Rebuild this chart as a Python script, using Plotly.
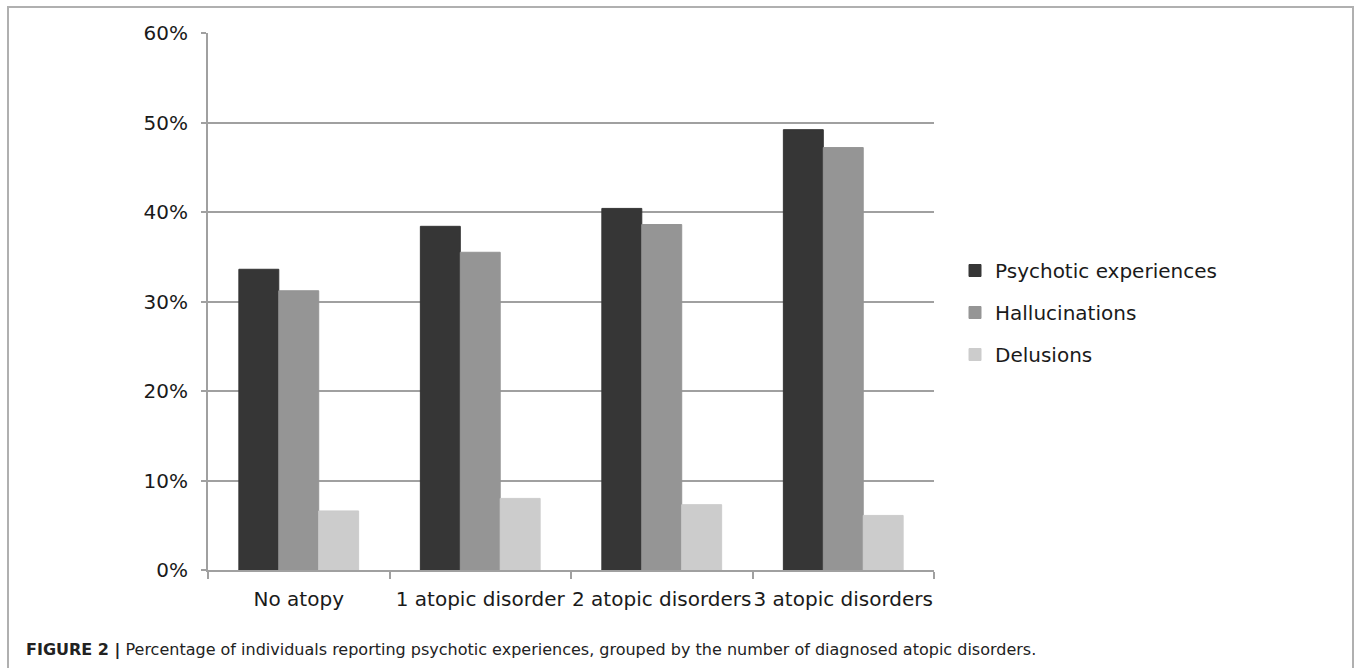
import plotly.graph_objects as go

categories = ["No atopy", "1 atopic disorder", "2 atopic disorders", "3 atopic disorders"]
psychotic = [0.336, 0.384, 0.404, 0.492]
hallucinations = [0.312, 0.355, 0.386, 0.472]
delusions = [0.066, 0.080, 0.073, 0.061]
series_names = ["Psychotic experiences", "Hallucinations", "Delusions"]
series_colors = ["#363636", "#959595", "#cccccc"]
y_ticks = [0, 0.1, 0.2, 0.3, 0.4, 0.5, 0.6]
caption = ("<b>FIGURE 2 |</b> Percentage of individuals reporting psychotic experiences, "
           "grouped by the number of diagnosed atopic disorders.")

W, H = 1357, 668
fig = go.Figure()
for name, vals, col in zip(series_names, [psychotic, hallucinations, delusions], series_colors):
    fig.add_trace(go.Bar(x=categories, y=vals, name=name, legendgroup=name,
                         marker=dict(color=col, line=dict(color=col, width=1))))

font = "DejaVu Sans, Liberation Sans, Arial, sans-serif"
fig.update_layout(
    width=W, height=H,
    margin=dict(l=0, r=0, t=0, b=0),
    paper_bgcolor="white", plot_bgcolor="white",
    barmode="group", bargap=0.34, bargroupgap=0,
    font=dict(family=font, size=20, color="#1a1a1a"),
    showlegend=True,
    legend=dict(x=955 / W, y=1 - 251 / H, xanchor="left", yanchor="top",
                font=dict(size=20, color="#1a1a1a"), tracegroupgap=13,
                bgcolor="rgba(0,0,0,0)"),
    xaxis=dict(domain=[208 / W, 934 / W], automargin=False, tickangle=0,
               showline=True, linecolor="#a0a0a0", linewidth=2,
               ticks="outside", tickson="boundaries", ticklen=7, tickcolor="#a0a0a0",
               tickwidth=2, showgrid=False, tickfont=dict(size=20, color="#1a1a1a"),
               ticklabelstandoff=10),
    yaxis=dict(domain=[(H - 570) / H, (H - 33) / H], automargin=False,
               range=[0, 0.6], tickvals=y_ticks,
               tickformat=".0%", showline=True, linecolor="#a0a0a0", linewidth=2,
               ticks="outside", ticklen=5, tickcolor="#a0a0a0", tickwidth=2,
               showgrid=True, gridcolor="#a0a0a0", gridwidth=2, zeroline=False,
               tickfont=dict(size=20, color="#1a1a1a"), ticklabelstandoff=9),
)

fig.add_shape(type="rect", xref="paper", yref="paper",
              x0=8 / W, x1=1353 / W, y0=-0.05, y1=(H - 7) / H,
              line=dict(color="#b0b0b0", width=2), layer="below")

fig.add_annotation(text=caption, xref="paper", yref="paper", x=24 / W, y=(H - 650) / H,
                   xanchor="left", yanchor="middle", showarrow=False,
                   font=dict(family="DejaVu Sans, sans-serif", size=16, color="#222222"))

fig.write_html("out.html", config={"displayModeBar": False},
               post_script="document.body.style.margin='0';")
